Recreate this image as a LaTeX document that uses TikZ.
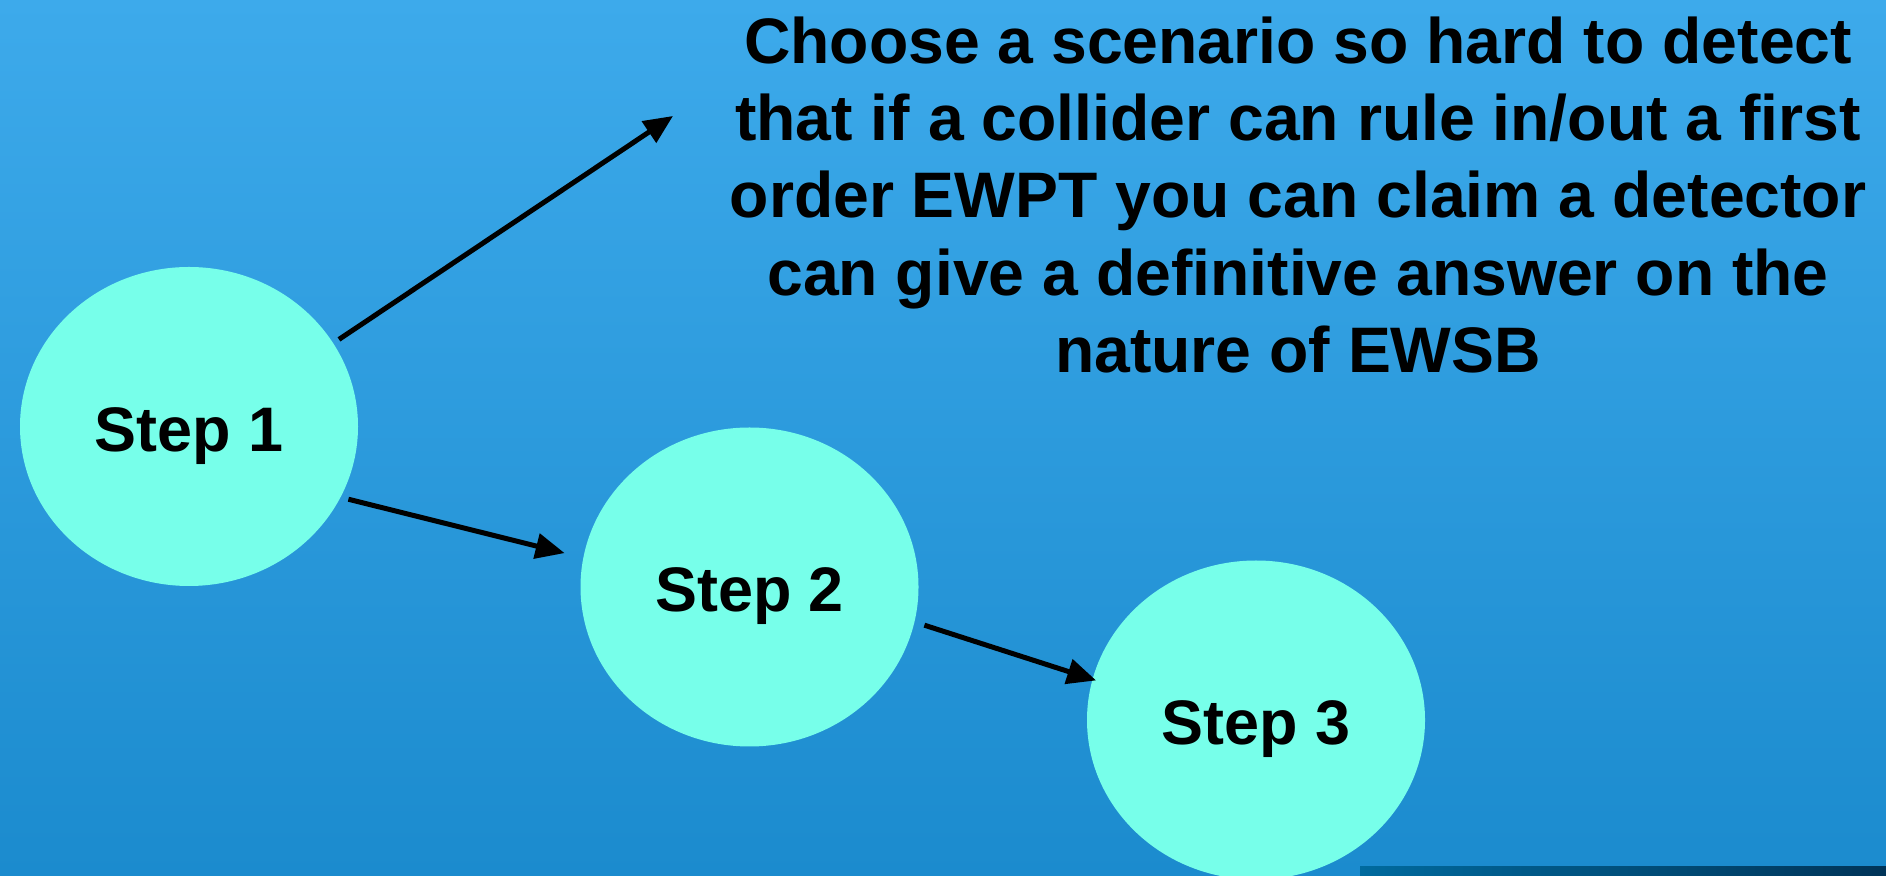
\documentclass[tikz,border=0pt]{standalone}
\usepackage{fontspec}
\setmainfont{Liberation Sans}
\usetikzlibrary{shapes.geometric,arrows.meta}
\definecolor{bgtop}{RGB}{61,170,235}
\definecolor{bgbot}{RGB}{27,139,206}
\definecolor{stepfill}{RGB}{119,255,234}
\definecolor{barleft}{RGB}{0,106,158}
\definecolor{barright}{RGB}{0,52,88}
\begin{document}
\begin{tikzpicture}[
  stepfont/.style={font=\fontsize{17.9}{21.9}\selectfont\bfseries},
  goalfont/.style={font=\fontsize{18.3}{22.0}\selectfont\bfseries},
  stepnode/.style={ellipse, fill=stepfill, minimum width=3.38cm, minimum height=3.19cm,
    inner sep=0pt, stepfont, text height=0.5cm, text depth=0pt},
  flow/.style={line width=0.05cm, -{Triangle[length=0.29cm,width=0.25cm]}}
]
% slide background
\shade[top color=bgtop, bottom color=bgbot] (0,0) rectangle (18.86,8.75);
\useasboundingbox (0,0) rectangle (18.86,8.75);
\shade[left color=barleft, right color=barright] (13.60,0) rectangle (18.86,0.09);

% the three steps
\node[stepnode] (s1) at (1.89,4.485) {Step 1};
\node[stepnode] (s2) at (7.495,2.88) {Step 2};
\node[stepnode] (s3) at (12.56,1.55) {Step 3};

% goal statement
\node[anchor=north, inner sep=0pt, align=center, goalfont] (goal) at (12.98,8.59)
  {Choose a scenario so hard to detect\\
   that if a collider can rule in/out a first\\
   order EWPT you can claim a detector\\
   can give a definitive answer on the\\
   nature of EWSB};
\coordinate (goalin) at (6.73,7.59);

% connectors
\draw[flow, shorten <=0.063cm] (s1.30) -- (goalin);
\draw[flow, shorten <=0.075cm, shorten >=0.186cm] (s1.-25) -- (s2.170);
\draw[flow, shorten <=0.098cm, shorten >=-0.044cm] (s2.-12) -- (s3.166);
\end{tikzpicture}
\end{document}
